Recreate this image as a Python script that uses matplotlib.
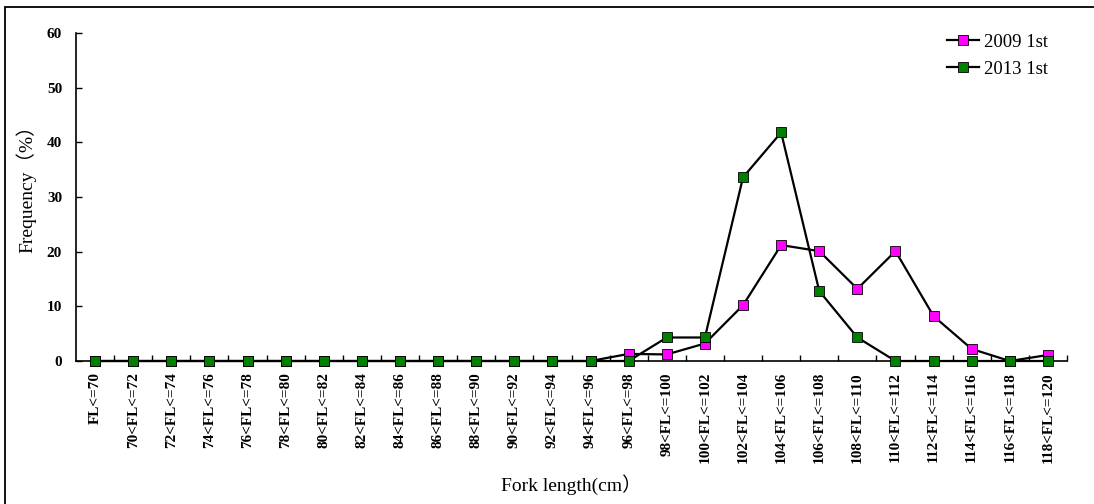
import matplotlib.pyplot as plt
from matplotlib.patches import Rectangle

# fork length classes
categories = ['FL<=70'] + ['%d<FL<=%d' % (a, a + 2) for a in range(70, 120, 2)]

# frequency (%)
freq_2009 = [0, 0, 0, 0, 0, 0, 0, 0, 0, 0, 0, 0, 0, 0,
             1.3, 1.2, 3.2, 10.2, 21.2, 20.1, 13.2, 20.1, 8.2, 2.2, 0, 1.1]
freq_2013 = [0, 0, 0, 0, 0, 0, 0, 0, 0, 0, 0, 0, 0, 0,
             0, 4.3, 4.3, 33.6, 41.8, 12.8, 4.3, 0, 0, 0, 0, 0]
series_names = ['2009 1st', '2013 1st']

serif = ['Liberation Serif', 'Noto Sans CJK SC']
plt.rcParams['font.family'] = serif

fig = plt.figure(figsize=(10.94, 5.04), dpi=100)
ax = fig.add_axes([76 / 1094, 1 - 361 / 504, (1067 - 76) / 1094, (361 - 33) / 504])

# outer chart frame (only top/left visible in the original)
fig.patches.append(Rectangle((5 / 1094, -0.1), 1.2, (497 / 504) + 0.1,
                             transform=fig.transFigure, fill=False,
                             edgecolor='black', linewidth=1.3))

x = list(range(len(categories)))
ax.plot(x, freq_2009, color='black', linewidth=1.6, marker='s', markersize=7,
        markerfacecolor='#FF00FF', markeredgecolor='black', markeredgewidth=0.6,
        label=series_names[0], clip_on=False, zorder=3)
ax.plot(x, freq_2013, color='black', linewidth=1.6, marker='s', markersize=7,
        markerfacecolor='#007F00', markeredgecolor='black', markeredgewidth=0.6,
        label=series_names[1], clip_on=False, zorder=4)

ax.set_xlim(-0.5, len(categories) - 0.5)
ax.set_ylim(0, 60)
ax.set_yticks(range(0, 61, 10))
ax.set_xticks(x)
ax.set_xticklabels(categories, rotation=90, fontsize=11, fontweight='bold',
                   va='top', ha='center')
ax.set_xticks([i - 0.5 for i in range(1, len(categories) + 1)], minor=True)
ax.tick_params(axis='x', which='major', length=0, pad=8)
ax.tick_params(axis='x', which='minor', direction='in', length=4, width=1)
ax.tick_params(axis='y', direction='in', length=4, width=1, pad=10)
for lab in ax.get_yticklabels():
    lab.set_fontweight('bold')
    lab.set_fontsize(11)

ax.spines['top'].set_visible(False)
ax.spines['right'].set_visible(False)
ax.spines['left'].set_linewidth(1.2)
ax.spines['bottom'].set_linewidth(1.2)

ax.set_xlabel('Fork length(cm）', fontsize=14, labelpad=8)
ax.set_ylabel('Frequency（%）', fontsize=14)
ax.yaxis.set_label_coords(-0.040, 0.54)

ax.legend(loc='upper right', bbox_to_anchor=(0.998, 1.05), frameon=False,
          fontsize=13.5, handlelength=1.7, handletextpad=0.3, labelspacing=0.55)

fig.savefig('out.png', dpi=100)
